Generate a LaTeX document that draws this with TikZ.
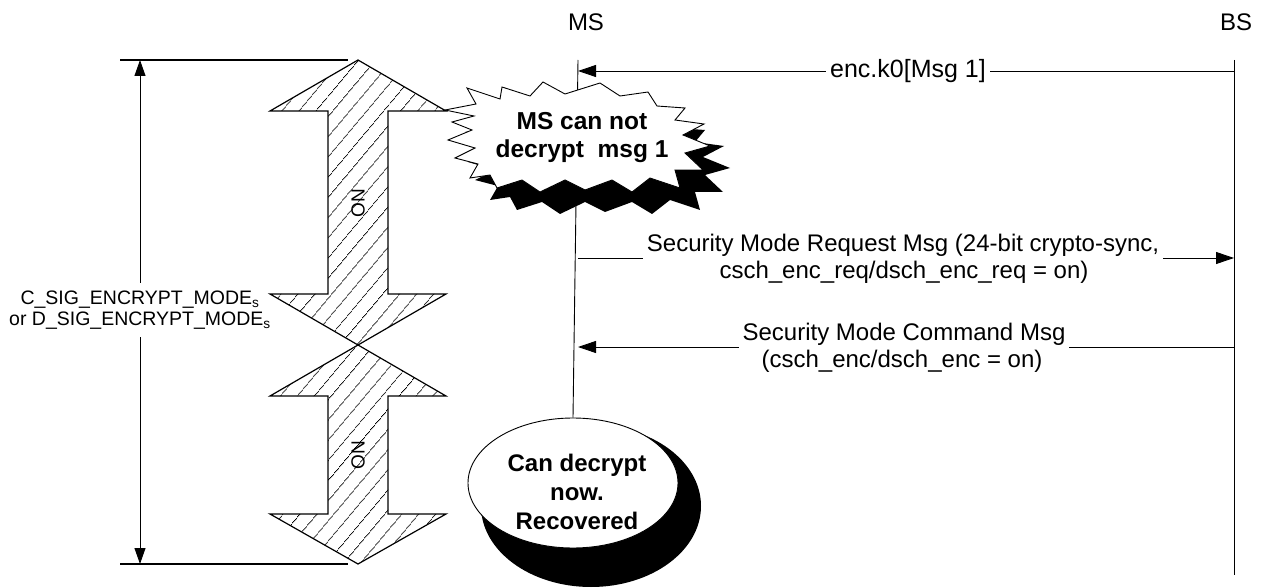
\documentclass[tikz,border=0pt]{standalone}
\usepackage{fontspec}
\setmainfont{Liberation Sans}
\usetikzlibrary{arrows.meta,patterns.meta,shapes.geometric}
\newcommand\burstpts{(445,110) -- (476,104) -- (467,88) -- (500,99) -- (502,87) -- (530,96) -- (543,82) -- (565,94) -- (600,83) -- (620,96) -- (648,92) -- (657,106) -- (685,108) -- (675,120) -- (704,124) -- (683,135) -- (710,146) -- (685,153) -- (703,170) -- (675,170) -- (680,188) -- (650,178) -- (632,192) -- (612,180) -- (585,190) -- (565,180) -- (540,192) -- (522,180) -- (497,188) -- (490,175) -- (470,178) -- (478,164) -- (455,158) -- (475,148) -- (448,140) -- (472,130) -- (452,122) -- (474,116) -- cycle}
\begin{document}
\begin{tikzpicture}[x=1pt,y=-1pt,
  lifeline/.style={line width=0.9pt},
  msg/.style={line width=0.9pt,-{Triangle[length=18pt,width=12pt]}},
  lbl/.style={font=\fontsize{24}{27}\selectfont,inner sep=4pt},
  lblcut/.style={lbl,fill=white},
  head/.style={font=\fontsize{24}{28}\selectfont,inner sep=0pt},
  hatcharrow/.style={draw,line width=1.2pt,line join=miter,pattern={Lines[angle=50,distance=13pt,line width=0.8pt]}},
  ontext/.style={font=\fontsize{19}{20}\selectfont,rotate=90,inner sep=0pt},
  dimline/.style={line width=0.9pt,-{Triangle[length=16pt,width=11pt]}},
  dimtick/.style={line width=1.3pt},
  boldtext/.style={font=\fontsize{24.5}{28}\selectfont\bfseries,align=center,inner sep=0pt},
]
\useasboundingbox (0,0) rectangle (1267,588);

% headings
\node[head] (mslbl) at (586,22) {MS};
\node[head] (bslbl) at (1236,22) {BS};

% lifelines
\coordinate (mstop) at (578,60);
\coordinate (bstop) at (1234,60);
\coordinate (bsbot) at (1234,575);

% ellipse with shadow
\node[ellipse,fill=black,minimum width=220pt,minimum height=162pt,inner sep=0pt] (recovshadow) at (591,506) {};
\node[ellipse,draw,line width=0.9pt,fill=white,minimum width=210pt,minimum height=130pt,inner sep=0pt] (recov) at (573,483) {};
\node[boldtext,font=\fontsize{24}{29}\selectfont\bfseries] (recovtext) at (577,492) {Can decrypt\\now.\\Recovered};

\draw[lifeline] (mstop) -- (recov.north);
\draw[lifeline] (bstop) -- (bsbot);

% burst with shadow
\fill[black,shift={(20,22)}] \burstpts;
\filldraw[fill=white,draw=black,line width=0.9pt] \burstpts;
\node[boldtext] (bursttext) at (582,138) {MS can not\\decrypt\ \ msg 1};

% messages
\coordinate (ms1) at (578,71);
\coordinate (bs1) at (1234,71);
\draw[msg] (bs1) -- (ms1);
\node[lblcut,font=\fontsize{25}{28}\selectfont] (m1) at (908,71) {enc.k0[Msg 1]};

\coordinate (ms2) at (578,258);
\coordinate (bs2) at (1234,258);
\draw[msg] (ms2) -- (bs2);
\node[lblcut,anchor=base] (m2a) at (903,252) {Security Mode Request Msg (24-bit crypto-sync,};
\node[lbl,anchor=base] (m2b) at (904,279) {csch\_enc\_req/dsch\_enc\_req = on)};

\coordinate (ms3) at (578,347);
\coordinate (bs3) at (1234,347);
\draw[msg] (bs3) -- (ms3);
\node[lblcut,anchor=base] (m3a) at (904,340) {Security Mode Command Msg};
\node[lbl,anchor=base] (m3b) at (902,367) {(csch\_enc/dsch\_enc = on)};

% hatched double arrows
\path[hatcharrow] (358,60) -- (446,111) -- (388,111) -- (388,294) -- (446,294) -- (358,345) -- (270,294) -- (328,294) -- (328,111) -- (270,111) -- cycle;
\path[hatcharrow] (358,345) -- (446,396) -- (388,396) -- (388,514) -- (446,514) -- (358,564) -- (270,514) -- (328,514) -- (328,396) -- (270,396) -- cycle;
\node[ontext] (on1) at (358,203) {ON};
\node[ontext] (on2) at (358,455) {ON};

% dimension
\coordinate (dimtl) at (120,60);
\coordinate (dimtr) at (348,60);
\coordinate (dimbl) at (120,564);
\coordinate (dimbr) at (348,564);
\coordinate (dimtop) at (140,60);
\coordinate (dimbot) at (140,564);
\draw[dimtick] (dimtl) -- (dimtr);
\draw[dimtick] (dimbl) -- (dimbr);
\node[font=\fontsize{19.5}{21}\selectfont,align=center,inner xsep=0pt,inner ysep=8pt] (dimlbl) at (140,310) {C\_SIG\_ENCRYPT\_MODE\textsubscript{s}\\or D\_SIG\_ENCRYPT\_MODE\textsubscript{s}};
\draw[dimline] (dimlbl.north) -- (dimtop);
\draw[dimline] (dimlbl.south) -- (dimbot);
\end{tikzpicture}
\end{document}
